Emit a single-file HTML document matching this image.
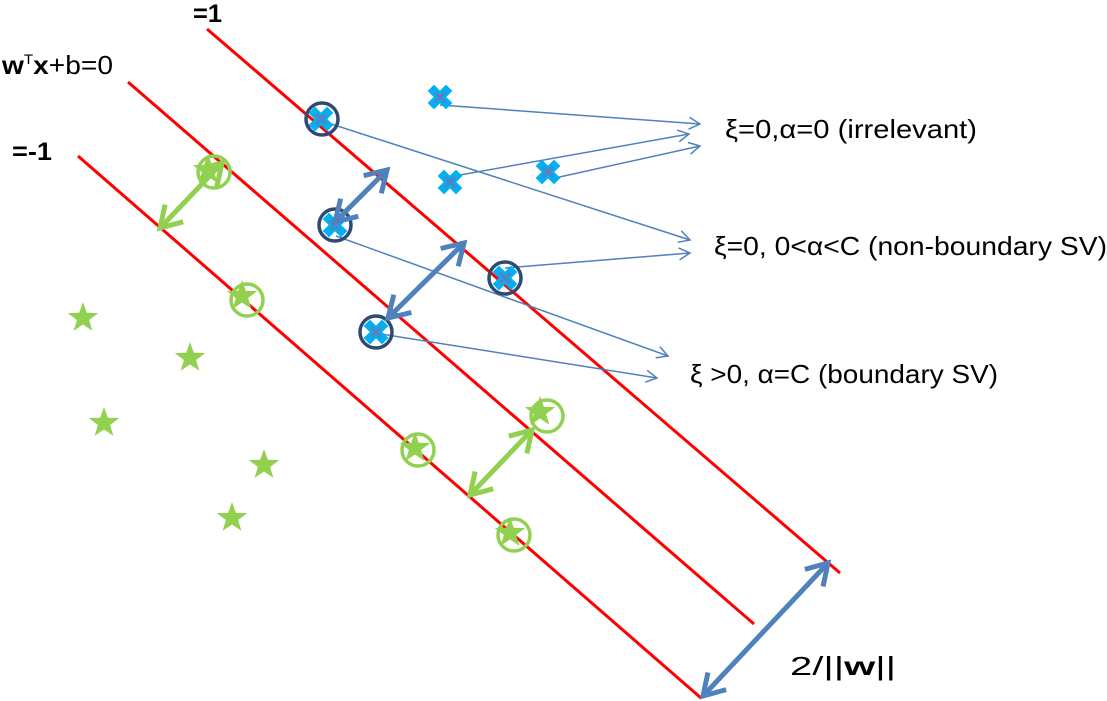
<!DOCTYPE html>
<html><head><meta charset="utf-8"><style>
html,body{margin:0;padding:0;background:#fff;}
svg{display:block;}
text{font-family:"Liberation Sans",sans-serif;fill:#000;}
</style></head><body>
<svg width="1107" height="701" viewBox="0 0 1107 701" xmlns="http://www.w3.org/2000/svg">
<defs>
<marker id="op" markerWidth="14" markerHeight="14" refX="12" refY="7" orient="auto" markerUnits="userSpaceOnUse">
<path d="M1,1 L12,7 L1,13" fill="none" stroke="#4f81bd" stroke-width="1.5"/>
</marker>
<marker id="bh" markerWidth="6" markerHeight="6" refX="4.6" refY="3" orient="auto-start-reverse">
<path d="M0.5,0.5 L4.6,3 L0.5,5.5" fill="none" stroke="#4f81bd" stroke-width="1"/>
</marker>
<marker id="gh" markerWidth="6" markerHeight="6" refX="4.6" refY="3" orient="auto-start-reverse">
<path d="M0.5,0.5 L4.6,3 L0.5,5.5" fill="none" stroke="#92d050" stroke-width="1"/>
</marker>
<g id="x"><path d="M-6,-6 L6,6 M6,-6 L-6,6" stroke="#00b0f0" stroke-width="9" stroke-linecap="square"/><path d="M-5,-5 L5,5 M5,-5 L-5,5" stroke="#5b7fbf" stroke-width="3"/></g>
<polygon id="s" points="0,-16 3.8,-5.2 15.2,-4.9 6.1,2 9.4,12.9 0,6.5 -9.4,12.9 -6.1,2 -15.2,-4.9 -3.8,-5.2" fill="#92d050"/>
</defs>
<g stroke="#ff0000" stroke-width="3">
<line x1="207" y1="29" x2="840" y2="573"/>
<line x1="128" y1="82" x2="754" y2="624"/>
<line x1="78" y1="156" x2="701" y2="698"/>
</g>
<g stroke="#4f81bd" stroke-width="1.5" fill="none" marker-end="url(#op)">
<line x1="440" y1="105" x2="700" y2="124"/>
<line x1="460" y1="175" x2="689" y2="134"/>
<line x1="555" y1="178" x2="700" y2="146"/>
<line x1="322" y1="121" x2="690" y2="240"/>
<line x1="505" y1="268" x2="690" y2="253"/>
<line x1="336" y1="236" x2="668" y2="356"/>
<line x1="375" y1="333" x2="657" y2="378"/>
</g>
<use href="#s" x="83" y="318"/><use href="#s" x="190" y="358"/><use href="#s" x="104" y="423"/>
<use href="#s" x="264" y="465"/><use href="#s" x="232" y="518"/>
<use href="#s" x="242" y="296"/><use href="#s" x="208" y="170"/><use href="#s" x="415" y="448"/>
<use href="#s" x="540" y="412"/><use href="#s" x="510" y="533"/>
<g fill="none" stroke="#92d050" stroke-width="3.5">
<circle cx="247" cy="300" r="16"/><circle cx="214" cy="172" r="16"/><circle cx="418" cy="450" r="16"/>
<circle cx="547" cy="416" r="16"/><circle cx="514" cy="535" r="16"/>
</g>
<use href="#x" x="440" y="97"/><use href="#x" x="450" y="182"/><use href="#x" x="548" y="172"/>
<use href="#x" x="321" y="119"/><use href="#x" x="335" y="225"/><use href="#x" x="505" y="278"/><use href="#x" x="376" y="332"/>
<g fill="none" stroke="#2f4a72" stroke-width="3.5">
<circle cx="322" cy="119" r="16"/><circle cx="335" cy="225" r="16"/><circle cx="505" cy="278" r="16"/><circle cx="376" cy="332" r="16"/>
</g>
<g stroke="#4f81bd" stroke-width="5" fill="none" marker-start="url(#bh)" marker-end="url(#bh)">
<line x1="335" y1="222" x2="387" y2="170"/>
<line x1="388" y1="318" x2="464" y2="243"/>
<line x1="703" y1="696" x2="828" y2="563"/>
</g>
<g stroke="#92d050" stroke-width="5" fill="none" marker-start="url(#gh)" marker-end="url(#gh)">
<line x1="160" y1="228" x2="222" y2="163"/>
<line x1="470" y1="495" x2="532" y2="430"/>
</g>
<text x="193" y="22" font-size="25" font-weight="bold" textLength="29" lengthAdjust="spacingAndGlyphs">=1</text>
<text x="2" y="74" font-size="26" textLength="111" lengthAdjust="spacingAndGlyphs"><tspan font-weight="bold">w</tspan><tspan font-size="14" dy="-10">T</tspan><tspan font-weight="bold" dy="10">x</tspan>+b=0</text>
<text x="12" y="160" font-size="25" font-weight="bold" textLength="40" lengthAdjust="spacingAndGlyphs">=-1</text>
<text x="725" y="138" font-size="26" textLength="252" lengthAdjust="spacingAndGlyphs">ξ=0,α=0 (irrelevant)</text>
<text x="714" y="255" font-size="26" textLength="393" lengthAdjust="spacingAndGlyphs">ξ=0, 0&lt;α&lt;C (non-boundary SV)</text>
<text x="690" y="383" font-size="26" textLength="308" lengthAdjust="spacingAndGlyphs">ξ &gt;0, α=C (boundary SV)</text>
<text x="790" y="675" font-size="26" textLength="106" lengthAdjust="spacingAndGlyphs">2/||<tspan font-weight="bold">w</tspan>||</text>
</svg>
</body></html>
